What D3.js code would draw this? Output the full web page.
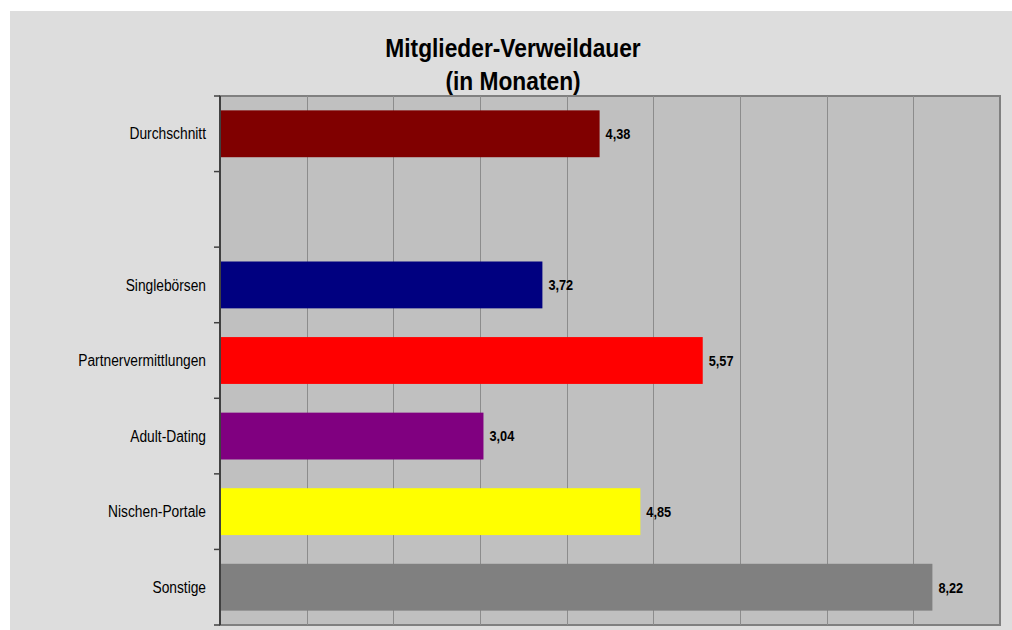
<!DOCTYPE html>
<html>
<head>
<meta charset="utf-8">
<script src="https://cdn.jsdelivr.net/npm/d3@7"></script>
<style>
  html, body { margin: 0; padding: 0; background: #fff; }
  svg { display: block; }
  text { font-family: 'Liberation Sans Narrow', 'Arial Narrow', 'Liberation Sans', Arial, sans-serif; }
</style>
</head>
<body>
<svg id="chart" width="1012" height="630"></svg>
<script>
// Chart data
let titleLines = ['Mitglieder-Verweildauer', '(in Monaten)'];
let categories = ['Durchschnitt', '', 'Singlebörsen', 'Partnervermittlungen', 'Adult-Dating', 'Nischen-Portale', 'Sonstige'];
let values = [4.38, null, 3.72, 5.57, 3.04, 4.85, 8.22];
let barColors = ['#800000', 'none', '#000080', '#ff0000', '#800080', '#ffff00', '#808080'];
let xTicks = [0, 1, 2, 3, 4, 5, 6, 7, 8, 9];

let W = 1012, H = 630;
let plot = { left: 220, top: 96, right: 1000, bottom: 625 };

let svg = d3.select('#chart');

// squeeze text horizontally, the original uses a narrow face
function condense (selection, factor) {
  selection.each(function () {
    let len = this.getComputedTextLength();
    if (len > 0) {
      d3.select(this)
        .attr('textLength', len * factor)
        .attr('lengthAdjust', 'spacingAndGlyphs');
    }
  });
}

// outer chart area
svg.append('rect')
  .attr('x', 10).attr('y', 11)
  .attr('width', W - 10).attr('height', H - 11)
  .attr('fill', '#dddddd');

// Title
svg.append('g').selectAll('text')
  .data(titleLines)
  .join('text')
  .attr('x', 513)
  .attr('y', (d, i) => 57 + i * 33)
  .attr('text-anchor', 'middle')
  .attr('font-size', 26)
  .attr('font-weight', 'bold')
  .attr('fill', '#000')
  .text(d => d)
  .call(condense, 0.875);

let x = d3.scaleLinear()
  .domain([0, 9])
  .range([plot.left, plot.right]);

let y = d3.scaleBand()
  .domain(categories.map((d, i) => i))
  .range([plot.top, plot.bottom])
  .paddingInner(0.38)
  .paddingOuter(0.19);

let yEdges = d3.scaleBand()
  .domain(categories.map((d, i) => i))
  .range([plot.top, plot.bottom]);

// plot background
svg.append('rect')
  .attr('x', plot.left).attr('y', plot.top)
  .attr('width', plot.right - plot.left)
  .attr('height', plot.bottom - plot.top)
  .attr('fill', '#c0c0c0')
  .attr('stroke', '#808080')
  .attr('stroke-width', 2);

// vertical gridlines
svg.append('g')
  .selectAll('line')
  .data(xTicks.slice(1, -1))
  .join('line')
  .attr('x1', d => Math.round(x(d)) + 0.5)
  .attr('x2', d => Math.round(x(d)) + 0.5)
  .attr('y1', plot.top)
  .attr('y2', plot.bottom)
  .attr('stroke', '#8c8c8c')
  .attr('stroke-width', 1);

let barData = values.map((v, i) => ({ v, i })).filter(d => d.v !== null);

// bars
svg.append('g')
  .selectAll('rect')
  .data(barData)
  .join('rect')
  .attr('x', x(0))
  .attr('y', d => y(d.i))
  .attr('width', d => x(d.v) - x(0))
  .attr('height', y.bandwidth())
  .attr('fill', d => barColors[d.i]);

// value labels
svg.append('g')
  .selectAll('text')
  .data(barData)
  .join('text')
  .attr('x', d => x(d.v) + 6)
  .attr('y', d => y(d.i) + y.bandwidth() / 2)
  .attr('dy', '0.36em')
  .attr('font-size', 15)
  .attr('font-weight', 'bold')
  .attr('fill', '#000')
  .text(d => d3.format('.2f')(d.v).replace('.', ','))
  .call(condense, 0.85);

// category axis
let yAxis = svg.append('g')
  .attr('transform', 'translate(' + plot.left + ',0)');
yAxis.append('line')
  .attr('x1', 0).attr('x2', 0)
  .attr('y1', plot.top).attr('y2', plot.bottom)
  .attr('stroke', '#404040')
  .attr('stroke-width', 2);
yAxis.selectAll('line.tick')
  .data(categories.map((d, i) => yEdges(i)).concat([plot.bottom]))
  .join('line')
  .attr('class', 'tick')
  .attr('x1', -6).attr('x2', 0)
  .attr('y1', d => d).attr('y2', d => d)
  .attr('stroke', '#404040')
  .attr('stroke-width', 1.5);
yAxis.selectAll('text')
  .data(categories)
  .join('text')
  .attr('x', -14)
  .attr('y', (d, i) => yEdges(i) + yEdges.bandwidth() / 2)
  .attr('dy', '0.35em')
  .attr('text-anchor', 'end')
  .attr('font-size', 16)
  .attr('fill', '#000')
  .text(d => d)
  .call(condense, 0.86);
</script>
</body>
</html>
